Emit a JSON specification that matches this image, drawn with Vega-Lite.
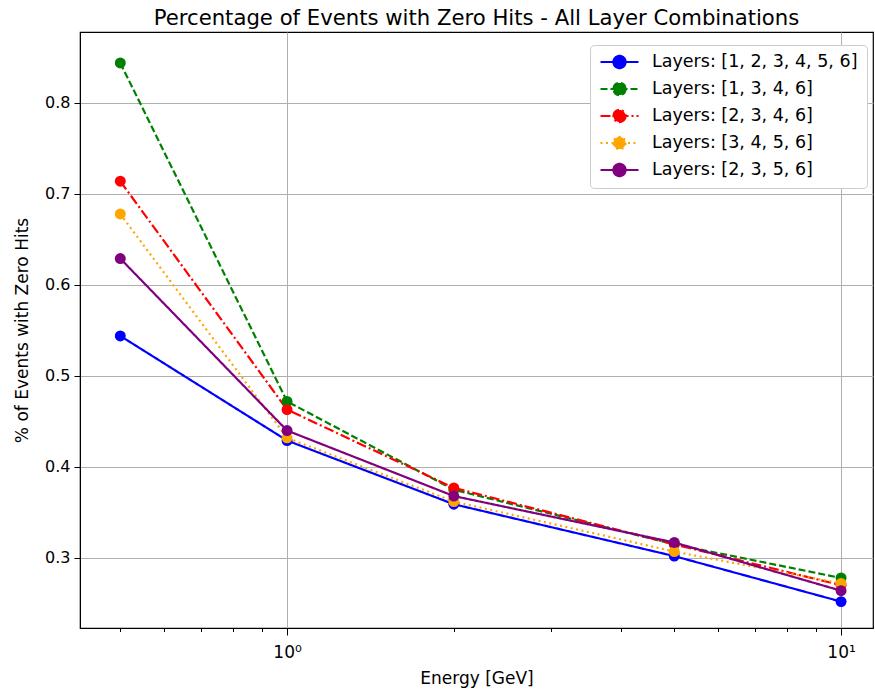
{
  "$schema": "https://vega.github.io/schema/vega-lite/v6.json",
  "width": 793,
  "height": 596,
  "autosize": {"type": "none"},
  "padding": {"left": 80, "top": 32, "right": 2, "bottom": 61},
  "background": "white",
  "config": {
    "font": "DejaVu Sans",
    "view": {"stroke": "black", "strokeWidth": 1.2},
    "axis": {
      "domainColor": "black",
      "tickColor": "black",
      "labelColor": "black",
      "titleColor": "black",
      "gridColor": "#b0b0b0",
      "gridWidth": 1,
      "labelFont": "DejaVu Sans",
      "titleFont": "DejaVu Sans",
      "titleFontWeight": "normal",
      "labelFontSize": 16,
      "titleFontSize": 17
    },
    "title": {"font": "DejaVu Sans", "fontSize": 21.2, "fontWeight": "normal", "color": "black"}
  },
  "title": {"text": "Percentage of Events with Zero Hits - All Layer Combinations", "offset": 3},
  "data": {
    "values": [
      {"series": "Layers: [1, 2, 3, 4, 5, 6]", "energy": 0.5, "frac": 0.544},
      {"series": "Layers: [1, 2, 3, 4, 5, 6]", "energy": 1, "frac": 0.429},
      {"series": "Layers: [1, 2, 3, 4, 5, 6]", "energy": 2, "frac": 0.359},
      {"series": "Layers: [1, 2, 3, 4, 5, 6]", "energy": 5, "frac": 0.302},
      {"series": "Layers: [1, 2, 3, 4, 5, 6]", "energy": 10, "frac": 0.252},
      {"series": "Layers: [1, 3, 4, 6]", "energy": 0.5, "frac": 0.844},
      {"series": "Layers: [1, 3, 4, 6]", "energy": 1, "frac": 0.472},
      {"series": "Layers: [1, 3, 4, 6]", "energy": 2, "frac": 0.375},
      {"series": "Layers: [1, 3, 4, 6]", "energy": 5, "frac": 0.315},
      {"series": "Layers: [1, 3, 4, 6]", "energy": 10, "frac": 0.278},
      {"series": "Layers: [2, 3, 4, 6]", "energy": 0.5, "frac": 0.714},
      {"series": "Layers: [2, 3, 4, 6]", "energy": 1, "frac": 0.463},
      {"series": "Layers: [2, 3, 4, 6]", "energy": 2, "frac": 0.377},
      {"series": "Layers: [2, 3, 4, 6]", "energy": 5, "frac": 0.315},
      {"series": "Layers: [2, 3, 4, 6]", "energy": 10, "frac": 0.270},
      {"series": "Layers: [3, 4, 5, 6]", "energy": 0.5, "frac": 0.678},
      {"series": "Layers: [3, 4, 5, 6]", "energy": 1, "frac": 0.432},
      {"series": "Layers: [3, 4, 5, 6]", "energy": 2, "frac": 0.362},
      {"series": "Layers: [3, 4, 5, 6]", "energy": 5, "frac": 0.307},
      {"series": "Layers: [3, 4, 5, 6]", "energy": 10, "frac": 0.272},
      {"series": "Layers: [2, 3, 5, 6]", "energy": 0.5, "frac": 0.629},
      {"series": "Layers: [2, 3, 5, 6]", "energy": 1, "frac": 0.440},
      {"series": "Layers: [2, 3, 5, 6]", "energy": 2, "frac": 0.368},
      {"series": "Layers: [2, 3, 5, 6]", "energy": 5, "frac": 0.317},
      {"series": "Layers: [2, 3, 5, 6]", "energy": 10, "frac": 0.264}
    ]
  },
  "mark": {"type": "line", "strokeWidth": 2.2, "point": {"filled": true, "size": 120, "opacity": 1}},
  "encoding": {
    "x": {
      "field": "energy",
      "type": "quantitative",
      "scale": {"type": "log", "domain": [0.4229, 11.42], "nice": false},
      "axis": {
        "title": "Energy [GeV]",
        "values": [0.5, 0.6, 0.7, 0.8, 0.9, 1, 2, 3, 4, 5, 6, 7, 8, 9, 10],
        "labelExpr": "datum.value == 1 ? '10⁰' : (datum.value == 10 ? '10¹' : '')",
        "tickSize": {"condition": {"test": "datum.value == 1 || datum.value == 10", "value": 7}, "value": 3.5},
        "gridOpacity": {"condition": {"test": "datum.value == 1 || datum.value == 10", "value": 1}, "value": 0},
        "grid": true,
        "labelFontSize": 17,
        "labelPadding": 9,
        "titlePadding": 10,
        "labelFlush": false,
        "labelOverlap": false
      }
    },
    "y": {
      "field": "frac",
      "type": "quantitative",
      "scale": {"domain": [0.223, 0.878], "nice": false, "zero": false},
      "axis": {
        "title": "% of Events with Zero Hits",
        "values": [0.3, 0.4, 0.5, 0.6, 0.7, 0.8],
        "format": ".1f",
        "tickSize": 6,
        "labelPadding": 4,
        "titlePadding": 13,
        "grid": true
      }
    },
    "color": {
      "field": "series",
      "type": "nominal",
      "scale": {
        "domain": ["Layers: [1, 2, 3, 4, 5, 6]", "Layers: [1, 3, 4, 6]", "Layers: [2, 3, 4, 6]", "Layers: [3, 4, 5, 6]", "Layers: [2, 3, 5, 6]"],
        "range": ["#0000ff", "#008000", "#ff0000", "#ffa500", "#800080"]
      },
      "legend": {
        "title": null,
        "orient": "none",
        "legendX": 510,
        "legendY": 13,
        "symbolType": "M-1,0H1M0.32,0A0.32,0.32,0,1,1,-0.32,0A0.32,0.32,0,1,1,0.32,0Z",
        "symbolSize": 1444,
        "symbolStrokeWidth": 2.2,
        "clipHeight": 16,
        "labelFontSize": 17.5,
        "labelLimit": 400,
        "labelColor": "black",
        "labelOffset": 12,
        "padding": 9,
        "strokeColor": "#cccccc",
        "fillColor": "white",
        "cornerRadius": 4,
        "rowPadding": 9,
        "encode": {
          "symbols": {"update": {"fill": {"scale": "color", "field": "value"}, "opacity": {"value": 1}}}
        }
      }
    },
    "strokeDash": {
      "field": "series",
      "type": "nominal",
      "scale": {
        "domain": ["Layers: [1, 2, 3, 4, 5, 6]", "Layers: [1, 3, 4, 6]", "Layers: [2, 3, 4, 6]", "Layers: [3, 4, 5, 6]", "Layers: [2, 3, 5, 6]"],
        "range": [[1, 0], [7, 3], [10, 3, 2, 3], [2, 3.5], [1, 0]]
      },
      "legend": {
        "title": null,
        "orient": "none",
        "legendX": 510,
        "legendY": 13
      }
    }
  }
}
